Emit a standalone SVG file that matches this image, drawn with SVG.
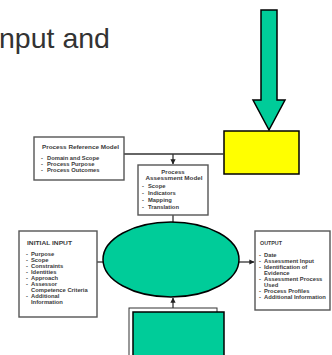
<svg xmlns="http://www.w3.org/2000/svg" width="332" height="355" viewBox="0 0 332 355">
<defs>
<style>
.box{fill:#fff;stroke:#555;stroke-width:1.4}
.t{font-family:"Liberation Sans",Arial,sans-serif;font-weight:bold;fill:#3a3a3a;font-size:5.8px}
.ttl{font-family:"Liberation Sans",Arial,sans-serif;font-weight:bold;fill:#3a3a3a;font-size:6px}
.c{fill:none;stroke:#333;stroke-width:1.3}
.g{fill:#00cc99;stroke:#000;stroke-width:1.5}
</style>
<marker id="ah" viewBox="0 0 10 10" refX="9" refY="5" markerWidth="4" markerHeight="4" orient="auto">
<path d="M0,0 L10,5 L0,10 z" fill="#222"/>
</marker>
</defs>
<rect width="332" height="355" fill="#fff"/>
<text x="-1" y="48" font-family="Liberation Sans,Arial,sans-serif" font-size="28.5" fill="#333">nput and</text>

<g id="bigArrow">
<polygon class="g" points="261,10 277,10 277,100 285,100 269,130 253,100 261,100"/>
</g>
<g id="yellowBox">
<rect x="224" y="131" width="75" height="43" fill="#ffff00" stroke="#000" stroke-width="1.5"/>
</g>

<g id="connectors">
<line class="c" x1="124" y1="154" x2="224" y2="154"/>
<line class="c" x1="173" y1="154" x2="173" y2="164" marker-end="url(#ah)"/>
<line class="c" x1="173" y1="215" x2="173" y2="222"/>
<line class="c" x1="97" y1="262" x2="103" y2="262"/>
<line class="c" x1="239" y1="262" x2="254" y2="262" marker-end="url(#ah)"/>
<line class="c" x1="173" y1="308" x2="173" y2="298" marker-end="url(#ah)"/>
</g>

<g id="prm">
<rect class="box" x="34" y="137" width="90" height="43"/>
<text class="ttl" x="42" y="149" textLength="77" lengthAdjust="spacingAndGlyphs">Process Reference Model</text>
<text class="t" x="41" y="160">-</text><text class="t" x="47" y="160">Domain and Scope</text>
<text class="t" x="41" y="166">-</text><text class="t" x="47" y="166">Process Purpose</text>
<text class="t" x="41" y="172">-</text><text class="t" x="47" y="172">Process Outcomes</text>
</g>

<g id="pam">
<rect class="box" x="138" y="165" width="70" height="50"/>
<text class="ttl" x="173" y="174" text-anchor="middle">Process</text>
<text class="ttl" x="174" y="180" text-anchor="middle" textLength="57" lengthAdjust="spacingAndGlyphs">Assessment Model</text>
<text class="t" x="142" y="188">-</text><text class="t" x="148" y="188">Scope</text>
<text class="t" x="142" y="195">-</text><text class="t" x="148" y="195">Indicators</text>
<text class="t" x="142" y="202">-</text><text class="t" x="148" y="202">Mapping</text>
<text class="t" x="142" y="209">-</text><text class="t" x="148" y="209">Translation</text>
</g>

<g id="initialInput">
<rect class="box" x="19" y="231" width="78" height="86"/>
<text class="ttl" x="27" y="245" textLength="45" lengthAdjust="spacingAndGlyphs" font-weight="normal">INITIAL INPUT</text>
<text class="t" x="26" y="256">-</text><text class="t" x="31" y="256">Purpose</text>
<text class="t" x="26" y="262">-</text><text class="t" x="31" y="262">Scope</text>
<text class="t" x="26" y="268">-</text><text class="t" x="31" y="268">Constraints</text>
<text class="t" x="26" y="274">-</text><text class="t" x="31" y="274">Identities</text>
<text class="t" x="26" y="280">-</text><text class="t" x="31" y="280">Approach</text>
<text class="t" x="26" y="286">-</text><text class="t" x="31" y="286">Assessor</text>
<text class="t" x="31" y="292">Competence Criteria</text>
<text class="t" x="26" y="298">-</text><text class="t" x="31" y="298">Additional</text>
<text class="t" x="31" y="304">Information</text>
</g>

<g id="output">
<rect class="box" x="255" y="231" width="75" height="79"/>
<text class="ttl" x="260" y="245" textLength="22" lengthAdjust="spacingAndGlyphs" font-weight="normal">OUTPUT</text>
<text class="t" x="259" y="257">-</text><text class="t" x="264" y="257">Date</text>
<text class="t" x="259" y="263">-</text><text class="t" x="264" y="263">Assessment Input</text>
<text class="t" x="259" y="269">-</text><text class="t" x="264" y="269">Identification of</text>
<text class="t" x="264" y="275">Evidence</text>
<text class="t" x="259" y="281">-</text><text class="t" x="264" y="281">Assessment Process</text>
<text class="t" x="264" y="287">Used</text>
<text class="t" x="259" y="293">-</text><text class="t" x="264" y="293">Process Profiles</text>
<text class="t" x="259" y="299">-</text><text class="t" x="264" y="299">Additional Information</text>
</g>

<g id="ellipse">
<ellipse class="g" cx="171" cy="259.5" rx="68" ry="37.5"/>
</g>

<g id="bottomBox">
<rect x="129" y="308" width="88" height="52" fill="#fff" stroke="#333" stroke-width="1"/>
<rect class="g" x="133" y="312" width="91" height="50"/>
</g>
</svg>
